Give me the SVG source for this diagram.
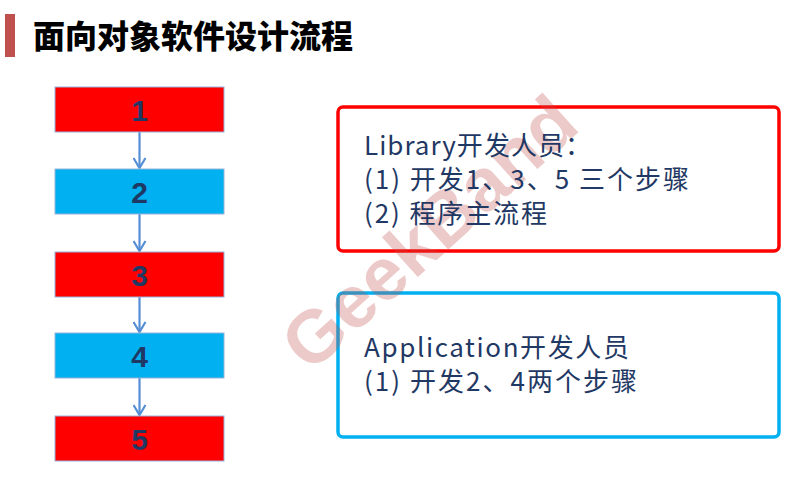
<svg xmlns="http://www.w3.org/2000/svg" width="790" height="478" viewBox="0 0 790 478">
<defs>
<style>
.step{stroke:#95b3d7;stroke-width:1}
.red{fill:#ff0000}
.blue{fill:#00b0f0}
.num{font-family:"Liberation Sans","Noto Sans CJK SC",sans-serif;font-weight:bold;font-size:30px;fill:#1f3864;text-anchor:middle}
.conn{stroke:#558ed5;stroke-width:2.2;fill:none}
.txt{font-family:"Noto Sans CJK SC","Noto Sans",sans-serif;font-size:26px;fill:#1f3864}
.panel{fill:#ffffff;stroke-width:3.5}
</style>
<marker id="arr" viewBox="0 0 12 14" refX="11" refY="7" markerWidth="12" markerHeight="14" markerUnits="userSpaceOnUse" orient="auto">
<path d="M1,1 L11,7 L1,13" fill="none" stroke="#558ed5" stroke-width="2.2"/>
</marker>
</defs>
<rect width="790" height="478" fill="#ffffff"/>
<g id="title">
<rect x="5" y="14" width="10" height="43" fill="#c0504d"/>
<text x="33" y="48" font-family="Noto Sans CJK SC,sans-serif" font-weight="900" font-size="32" fill="#000000">面向对象软件设计流程</text>
</g>
<g id="connectors">
<line class="conn" x1="139.5" y1="132" x2="139.5" y2="168" marker-end="url(#arr)"/>
<line class="conn" x1="139.5" y1="214" x2="139.5" y2="251" marker-end="url(#arr)"/>
<line class="conn" x1="139.5" y1="296" x2="139.5" y2="332" marker-end="url(#arr)"/>
<line class="conn" x1="139.5" y1="378" x2="139.5" y2="415" marker-end="url(#arr)"/>
</g>
<g id="step1"><rect class="step red" x="55" y="87" width="169" height="45"/><text class="num" x="139.5" y="121">1</text></g>
<g id="step2"><rect class="step blue" x="55" y="169" width="169" height="45"/><text class="num" x="139.5" y="203">2</text></g>
<g id="step3"><rect class="step red" x="55" y="252" width="169" height="45"/><text class="num" x="139.5" y="286">3</text></g>
<g id="step4"><rect class="step blue" x="55" y="333" width="169" height="45"/><text class="num" x="139.5" y="367">4</text></g>
<g id="step5"><rect class="step red" x="55" y="416" width="169" height="45"/><text class="num" x="139.5" y="450">5</text></g>
<g id="library">
<rect class="panel" x="338" y="107" width="441" height="144" rx="5" stroke="#ff0000"/>
</g>
<g id="application">
<rect class="panel" x="338" y="293" width="441" height="144" rx="5" stroke="#00b0f0"/>
</g>
<text x="310" y="374" transform="rotate(-42 310 374)" font-family="Liberation Sans,sans-serif" font-weight="bold" font-size="74" fill="#c0504d" fill-opacity="0.3">GeekBand</text>
<g id="library-text">
<text class="txt" x="364" y="155" textLength="227" lengthAdjust="spacing">Library开发人员：</text>
<text class="txt" x="364" y="189" textLength="325" lengthAdjust="spacing">(1) 开发1、3、5 三个步骤</text>
<text class="txt" x="364" y="223" textLength="183" lengthAdjust="spacing">(2) 程序主流程</text>
</g>
<g id="application-text">
<text class="txt" x="364" y="357" textLength="265" lengthAdjust="spacing">Application开发人员</text>
<text class="txt" x="364" y="391" textLength="273" lengthAdjust="spacing">(1) 开发2、4两个步骤</text>
</g>
</svg>
